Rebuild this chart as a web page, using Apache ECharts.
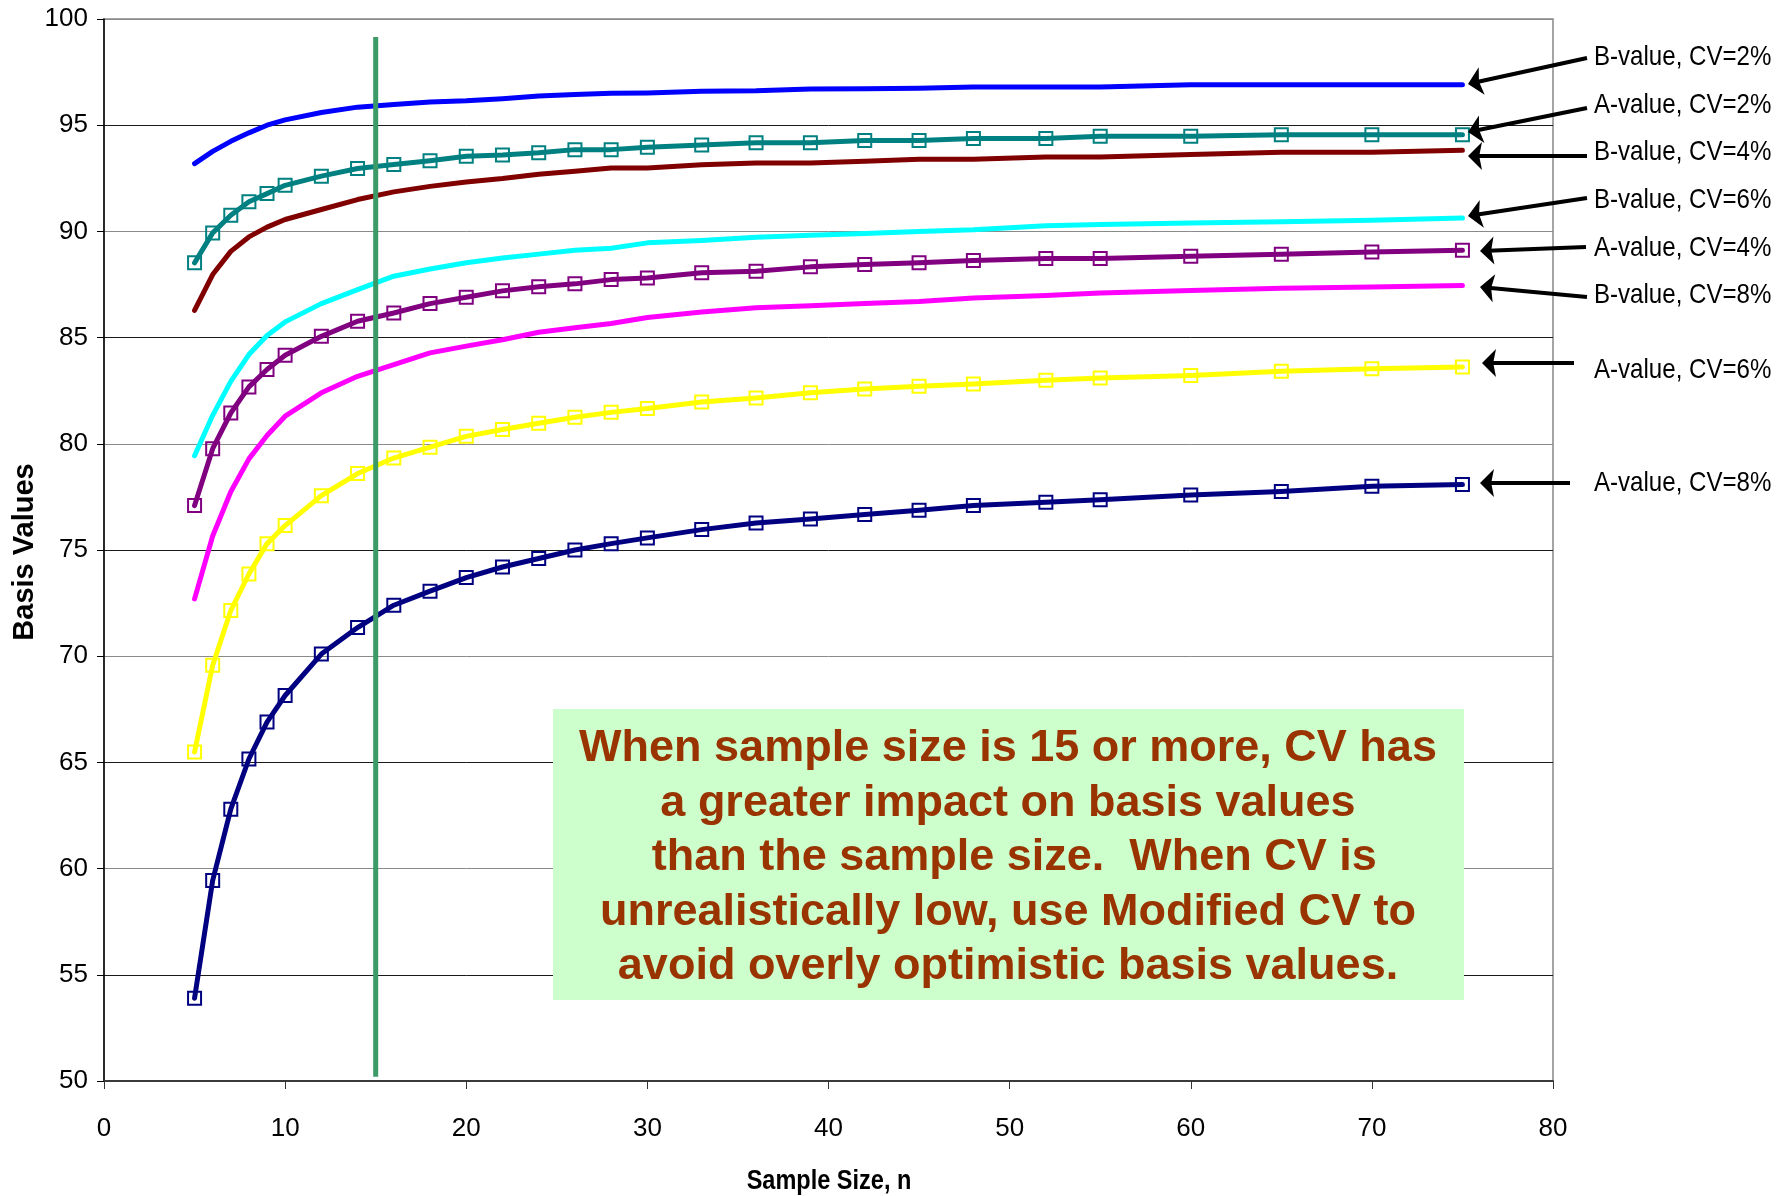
<!DOCTYPE html>
<html>
<head>
<meta charset="utf-8">
<script src="https://cdn.jsdelivr.net/npm/echarts@6/dist/echarts.min.js"></script>
<style>
  html, body { margin: 0; padding: 0; background: #fff; }
  #chart { width: 1786px; height: 1196px; }
</style>
</head>
<body>
<div id="chart"></div>
<script>
// sample sizes where the basis values were read
var nValues = [5, 6, 7, 8, 9, 10, 12, 14, 16, 18, 20, 22, 24, 26, 28, 30, 33, 36, 39, 42, 45, 48, 52, 55, 60, 65, 70, 75];

// B-value and A-value curves for each CV
var bCv2 = [93.19, 93.77, 94.24, 94.64, 95.0, 95.25, 95.6, 95.85, 95.98, 96.09, 96.15, 96.25, 96.38, 96.44, 96.5, 96.52, 96.6, 96.62, 96.71, 96.72, 96.74, 96.8, 96.8, 96.8, 96.9, 96.9, 96.9, 96.9];
var aCv2 = [88.52, 89.93, 90.76, 91.4, 91.78, 92.17, 92.6, 92.96, 93.15, 93.33, 93.54, 93.6, 93.7, 93.85, 93.85, 93.96, 94.07, 94.17, 94.17, 94.28, 94.28, 94.37, 94.37, 94.48, 94.48, 94.55, 94.55, 94.55];
var bCv4 = [86.28, 87.97, 89.06, 89.74, 90.2, 90.56, 91.03, 91.5, 91.86, 92.12, 92.33, 92.49, 92.69, 92.83, 92.99, 92.99, 93.14, 93.22, 93.22, 93.3, 93.4, 93.4, 93.5, 93.5, 93.62, 93.73, 93.73, 93.82];
var bCv6 = [79.44, 81.34, 82.94, 84.2, 85.1, 85.74, 86.6, 87.26, 87.89, 88.23, 88.52, 88.75, 88.93, 89.11, 89.21, 89.46, 89.57, 89.73, 89.82, 89.9, 90.0, 90.08, 90.27, 90.32, 90.4, 90.45, 90.52, 90.63];
var aCv4 = [77.09, 79.77, 81.45, 82.68, 83.5, 84.17, 85.06, 85.77, 86.16, 86.6, 86.9, 87.2, 87.39, 87.53, 87.73, 87.81, 88.05, 88.12, 88.33, 88.44, 88.52, 88.63, 88.72, 88.72, 88.83, 88.92, 89.03, 89.11];
var bCv8 = [72.7, 75.66, 77.74, 79.29, 80.39, 81.3, 82.4, 83.18, 83.73, 84.28, 84.6, 84.9, 85.25, 85.46, 85.66, 85.95, 86.2, 86.4, 86.5, 86.6, 86.7, 86.87, 86.98, 87.1, 87.22, 87.32, 87.38, 87.45];
var aCv6 = [65.49, 69.57, 72.15, 73.87, 75.3, 76.15, 77.56, 78.6, 79.33, 79.84, 80.35, 80.67, 80.97, 81.25, 81.48, 81.66, 81.97, 82.16, 82.4, 82.58, 82.71, 82.82, 82.99, 83.1, 83.21, 83.41, 83.53, 83.62];
var aCv8 = [53.9, 59.44, 62.8, 65.16, 66.9, 68.15, 70.1, 71.35, 72.4, 73.06, 73.7, 74.2, 74.6, 75.0, 75.3, 75.57, 75.96, 76.27, 76.46, 76.67, 76.87, 77.09, 77.25, 77.37, 77.59, 77.76, 78.0, 78.08];

// n = 15 marker line
var refLineX = [15, 15];
var refLineY = [50.2, 99.15];

var noteLines = [
  'When sample size is 15 or more, CV has',
  'a greater impact on basis values',
  ' than the sample size.  When CV is',
  'unrealistically low, use Modified CV to',
  'avoid overly optimistic basis values.'
];

var font = "'Liberation Sans', Arial, sans-serif";

// 标注箭头 (tip, tail, label)
var callouts = [
  { text: 'B-value, CV=2%', tip: [1468, 84], tail: [1587, 58], ly: 57 },
  { text: 'A-value, CV=2%', tip: [1468, 132], tail: [1587, 108], ly: 105 },
  { text: 'B-value, CV=4%', tip: [1468, 156], tail: [1587, 156], ly: 152 },
  { text: 'B-value, CV=6%', tip: [1468, 216], tail: [1587, 198], ly: 200 },
  { text: 'A-value, CV=4%', tip: [1480, 251], tail: [1586, 247], ly: 248 },
  { text: 'B-value, CV=8%', tip: [1480, 287], tail: [1587, 297], ly: 295 },
  { text: 'A-value, CV=6%', tip: [1482, 363], tail: [1574, 363], ly: 370 },
  { text: 'A-value, CV=8%', tip: [1480, 483], tail: [1570, 483], ly: 483 }
];

function arrow(tip, tail) {
  var dx = tail[0] - tip[0], dy = tail[1] - tip[1];
  var len = Math.sqrt(dx * dx + dy * dy);
  var ux = dx / len, uy = dy / len, px = -uy, py = ux;
  var hl = 14, hw = 14;
  var bx = tip[0] + ux * hl, by = tip[1] + uy * hl;
  return [{
    type: 'line',
    shape: { x1: tip[0] + ux * 8, y1: tip[1] + uy * 8, x2: tail[0], y2: tail[1] },
    style: { stroke: '#000', lineWidth: 4 },
    z: 100
  }, {
    type: 'polygon',
    shape: { points: [tip, [bx + px * hw, by + py * hw], [tip[0] + ux * hl * 0.8, tip[1] + uy * hl * 0.8], [bx - px * hw, by - py * hw]] },
    style: { fill: '#000' },
    z: 100
  }];
}

var graphics = [];
callouts.forEach(function (c) {
  graphics = graphics.concat(arrow(c.tip, c.tail));
  graphics.push({
    type: 'text', x: 1594, y: c.ly, scaleX: 0.86, z: 100,
    style: { text: c.text, font: '28px ' + font, fill: '#000', verticalAlign: 'middle' }
  });
});
// 坐标轴标题
graphics.push({
  type: 'text', x: 829, y: 1181, scaleX: 0.84, z: 100,
  style: { text: 'Sample Size, n', font: 'bold 28px ' + font, fill: '#000', align: 'center', verticalAlign: 'middle' }
});
graphics.push({
  type: 'text', x: 25, y: 552, rotation: Math.PI / 2, z: 100,
  style: { text: 'Basis Values', font: 'bold 29px ' + font, fill: '#000', align: 'center', verticalAlign: 'middle' }
});
graphics.push({
  type: 'rect', left: 553, top: 709, z: 90,
  shape: { width: 911, height: 291 },
  style: { fill: '#CCFFCC' }
});
graphics.push({
  type: 'text', z: 91, x: 1008, y: 858,
  style: {
    text: noteLines.join('\n'), align: 'center', verticalAlign: 'middle',
    font: 'bold 45px ' + font, lineHeight: 54.5, fill: '#993300'
  }
});

function curve(name, values, color, marked) {
  return {
    name: name,
    type: 'line',
    data: nValues.map(function (n, i) { return [n, values[i]]; }),
    showSymbol: marked,
    symbol: 'rect',
    symbolSize: 13,
    itemStyle: { color: 'rgba(0,0,0,0)', borderColor: color, borderWidth: 2 },
    lineStyle: { color: color, width: 5, cap: 'round', join: 'round' },
    emphasis: { disabled: true },
    z: 3
  };
}

var myChart = echarts.init(document.getElementById('chart'));
myChart.setOption({
  animation: false,
  backgroundColor: '#fff',
  grid: {
    left: 104, right: 233, top: 19, bottom: 115,
    containLabel: false, outerBoundsMode: 'none',
    show: true, borderColor: '#888', borderWidth: 1.5
  },
  xAxis: {
    type: 'value', min: 0, max: 80, interval: 10,
    axisLine: { show: true, onZero: false, lineStyle: { color: '#3a3a3a', width: 2 } },
    axisTick: { show: true, length: 8, lineStyle: { color: '#333', width: 1 } },
    axisLabel: { fontSize: 26, fontFamily: font, color: '#000', margin: 35 },
    splitLine: { show: false }
  },
  yAxis: {
    type: 'value', min: 50, max: 100, interval: 5,
    axisLine: { show: true, lineStyle: { color: '#000', width: 1.5 } },
    axisTick: { show: true, length: 7, lineStyle: { color: '#000', width: 1 } },
    axisLabel: { fontSize: 26, fontFamily: font, color: '#000', margin: 16 },
    splitLine: { show: true, lineStyle: { color: ['#8a8a8a', '#1a1a1a'], width: 1 } }
  },
  graphic: graphics,
  series: [
    curve('B-value, CV=2%', bCv2, '#0000FF', false),
    curve('A-value, CV=2%', aCv2, '#008080', true),
    curve('B-value, CV=4%', bCv4, '#800000', false),
    curve('B-value, CV=6%', bCv6, '#00FFFF', false),
    curve('A-value, CV=4%', aCv4, '#800080', true),
    curve('B-value, CV=8%', bCv8, '#FF00FF', false),
    curve('A-value, CV=6%', aCv6, '#FFFF00', true),
    curve('A-value, CV=8%', aCv8, '#000080', true),
    {
      name: 'n = 15',
      type: 'line',
      data: refLineX.map(function (x, i) { return [x, refLineY[i]]; }),
      showSymbol: false,
      lineStyle: { color: '#3C9A68', width: 5 },
      emphasis: { disabled: true },
      z: 5
    }
  ]
});
</script>
</body>
</html>
